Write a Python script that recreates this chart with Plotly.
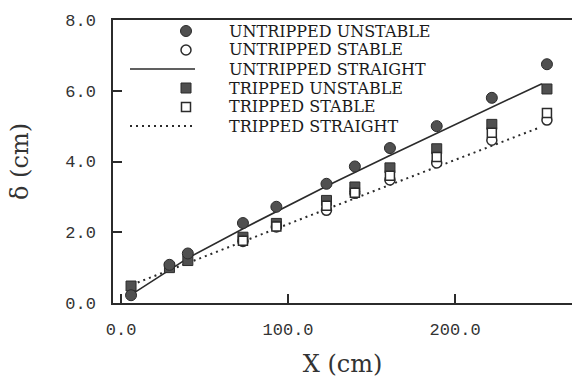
import plotly.graph_objects as go

# ---- data ----
x_pos = [6, 29, 40, 73, 93, 123, 140, 161, 189, 222, 255]
untripped_unstable = [0.22, 1.08, 1.40, 2.26, 2.72, 3.37, 3.86, 4.38, 5.00, 5.80, 6.75]
untripped_stable = [None, None, None, 1.74, 2.15, 2.62, 3.10, 3.48, 3.96, 4.60, 5.17]
tripped_unstable = [0.48, 1.00, 1.20, 1.86, 2.25, 2.90, 3.28, 3.82, 4.36, 5.05, 6.05]
tripped_stable = [None, None, None, 1.76, 2.16, 2.75, 3.12, 3.60, 4.13, 4.81, 5.37]

untripped_line_x = [5, 40, 75, 125, 160, 215, 252]
untripped_line_y = [0.20, 1.27, 2.15, 3.35, 4.15, 5.37, 6.20]
tripped_line_x = [10, 113, 250]
tripped_line_y = [0.58, 2.47, 4.95]

x_ticks = [0, 100, 200]
y_ticks = [0, 2, 4, 6, 8]

legend_labels = ["UNTRIPPED UNSTABLE", "UNTRIPPED STABLE", "UNTRIPPED STRAIGHT",
                 "TRIPPED UNSTABLE", "TRIPPED STABLE", "TRIPPED STRAIGHT"]

INK = "#2b2b2b"
FILL = "#505050"

fig = go.Figure()
fig.add_trace(go.Scatter(x=untripped_line_x, y=untripped_line_y, mode="lines",
                         line=dict(color=INK, width=1.6), name="UNTRIPPED STRAIGHT"))
fig.add_trace(go.Scatter(x=tripped_line_x, y=tripped_line_y, mode="lines",
                         line=dict(color=INK, width=2, dash="2px,4px"), name="TRIPPED STRAIGHT"))
fig.add_trace(go.Scatter(x=x_pos, y=tripped_unstable, mode="markers", name="TRIPPED UNSTABLE",
                         marker=dict(symbol="square", size=10, color=FILL, line=dict(color=INK, width=1))))
fig.add_trace(go.Scatter(x=x_pos, y=untripped_stable, mode="markers", name="UNTRIPPED STABLE",
                         marker=dict(symbol="circle", size=10, color="white", line=dict(color=INK, width=1.5))))
fig.add_trace(go.Scatter(x=x_pos, y=tripped_stable, mode="markers", name="TRIPPED STABLE",
                         marker=dict(symbol="square", size=9, color="white", line=dict(color=INK, width=1.5))))
fig.add_trace(go.Scatter(x=x_pos, y=untripped_unstable, mode="markers", name="UNTRIPPED UNSTABLE",
                         marker=dict(symbol="circle", size=11, color=FILL, line=dict(color=INK, width=1))))

# ---- custom legend (layout, pixel positions converted to paper coords) ----
L, R, T, B = 113, 572, 20, 303
W, H = R - L, B - T
def px(x):
    return (x - L) / W
def py(y):
    return (B - y) / H

rows = [31, 50, 69, 88, 107, 126]
sym_x = 186
shapes = []
annotations = []
for lab, ry in zip(legend_labels, rows):
    annotations.append(dict(x=px(227), y=py(ry), xref="paper", yref="paper", text=lab,
                            showarrow=False, xanchor="left", yanchor="middle",
                            font=dict(family="DejaVu Serif", size=16, color="#1a1a1a")))
shapes.append(dict(type="circle", xref="paper", yref="paper", xsizemode="pixel", ysizemode="pixel",
                   xanchor=px(sym_x), yanchor=py(rows[0]), x0=-5.5, x1=5.5, y0=-5.5, y1=5.5,
                   fillcolor=FILL, line=dict(color=INK, width=1)))
shapes.append(dict(type="circle", xref="paper", yref="paper", xsizemode="pixel", ysizemode="pixel",
                   xanchor=px(sym_x), yanchor=py(rows[1]), x0=-5, x1=5, y0=-5, y1=5,
                   fillcolor="white", line=dict(color=INK, width=1.5)))
shapes.append(dict(type="line", xref="paper", yref="paper", x0=px(130), x1=px(195),
                   y0=py(rows[2]), y1=py(rows[2]), line=dict(color=INK, width=1.6)))
shapes.append(dict(type="rect", xref="paper", yref="paper", xsizemode="pixel", ysizemode="pixel",
                   xanchor=px(sym_x), yanchor=py(rows[3]), x0=-5, x1=5, y0=-5, y1=5,
                   fillcolor=FILL, line=dict(color=INK, width=1)))
shapes.append(dict(type="rect", xref="paper", yref="paper", xsizemode="pixel", ysizemode="pixel",
                   xanchor=px(sym_x), yanchor=py(rows[4]), x0=-4.5, x1=4.5, y0=-4.5, y1=4.5,
                   fillcolor="white", line=dict(color=INK, width=1.5)))
shapes.append(dict(type="line", xref="paper", yref="paper", x0=px(130), x1=px(192),
                   y0=py(rows[5]), y1=py(rows[5]), line=dict(color=INK, width=2, dash="2px,4px")))

tick_font = dict(family="Liberation Mono", size=17, color="#333")
title_font = dict(family="DejaVu Serif", size=24, color="#333")

fig.update_layout(
    width=572, height=378,
    margin=dict(l=L, r=572 - R, t=T, b=378 - B),
    paper_bgcolor="white", plot_bgcolor="white",
    showlegend=False,
    shapes=shapes, annotations=annotations,
    xaxis=dict(range=[-4.8, 270], tickvals=x_ticks, tickformat=".1f",
               ticks="inside", ticklen=9, tickwidth=1.5, tickcolor=INK,
               showline=True, linecolor=INK, linewidth=1.5, mirror=True,
               showgrid=False, zeroline=False, tickfont=tick_font,
               ticklabelstandoff=10,
               title=dict(text="X (cm)", font=title_font, standoff=18)),
    yaxis=dict(range=[0, 8], tickvals=y_ticks, tickformat=".1f",
               ticks="inside", ticklen=9, tickwidth=1.5, tickcolor=INK,
               showline=True, linecolor=INK, linewidth=1.5, mirror=False,
               showgrid=False, zeroline=False, tickfont=tick_font,
               ticklabelstandoff=12,
               title=dict(text="δ (cm)", font=title_font, standoff=30)),
)

fig.write_html("out.html")
